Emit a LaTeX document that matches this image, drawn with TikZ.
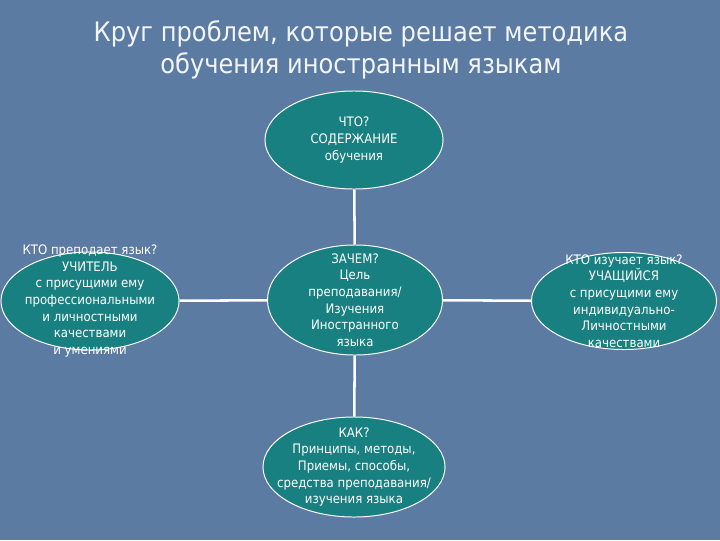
\documentclass[tikz,border=0pt]{standalone}
\usepackage{fontspec}
\setmainfont{DejaVu Sans Condensed}
\usepackage{xcolor}
\usetikzlibrary{shapes.geometric}
\definecolor{slatebg}{RGB}{92,123,163}
\definecolor{tealfill}{RGB}{24,128,128}

\begin{document}
\begin{tikzpicture}[
  x=0.025cm, y=-0.025cm,
  oval/.style={ellipse, draw=white, line width=0.7pt, fill=tealfill, inner sep=0pt},
  ovaltext/.style={text=white, align=center, inner sep=0pt, font=\fontsize{9.3}{11.8}\selectfont},
  link/.style={white, line width=1.8pt}
]
\fill[slatebg] (0,0) rectangle (720,540);
\useasboundingbox (0,0) rectangle (720,540);

\node[text=white!92!slatebg, align=center, font=\fontsize{19.1}{22.6}\selectfont] (title) at (361,50)
  {Круг проблем, которые решает методика\\обучения иностранным языкам};

\node[oval, minimum width=4.45cm, minimum height=2.45cm] (what) at (354,140) {};
\node[oval, minimum width=4.375cm, minimum height=2.75cm] (why) at (355,300) {};
\node[oval, minimum width=4.55cm, minimum height=2.5cm] (how) at (354,467) {};
\node[oval, minimum width=4.45cm, minimum height=2.45cm] (teacher) at (90,301) {};
\node[oval, minimum width=4.625cm, minimum height=2.425cm] (learner) at (624,301) {};

\draw[link] (what) -- (why);
\draw[link] (why) -- (how);
\draw[link] (teacher) -- (why);
\draw[link] (why) -- (learner);

\node[ovaltext] (whattext) at (what.center) {ЧТО?\\СОДЕРЖАНИЕ\\обучения};
\node[ovaltext] (whytext) at (why.center) {ЗАЧЕМ?\\Цель\\преподавания/\\Изучения\\Иностранного\\языка};
\node[ovaltext] (howtext) at (how.center) {КАК?\\Принципы, методы,\\Приемы, способы,\\средства преподавания/\\изучения языка};
\node[ovaltext] (teachertext) at (teacher.center) {КТО преподает язык?\\УЧИТЕЛЬ\\с присущими ему\\профессиональными\\и личностными\\качествами\\и умениями};
\node[ovaltext] (learnertext) at (learner.center) {КТО изучает язык?\\УЧАЩИЙСЯ\\с присущими ему\\индивидуально-\\Личностными\\качествами};
\end{tikzpicture}
\end{document}
